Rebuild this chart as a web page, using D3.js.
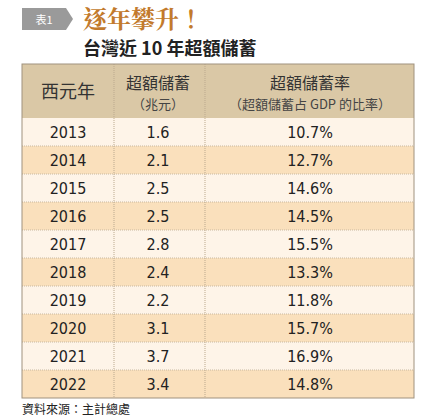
<!DOCTYPE html><html><head><meta charset="utf-8"><script src="https://cdn.jsdelivr.net/npm/d3@7"></script>
<style>body{margin:0;background:#fff}</style></head><body><svg id="c" width="424" height="420"></svg><script>
const years=["2013","2014","2015","2016","2017","2018","2019","2020","2021","2022"];
const savings=["1.6","2.1","2.5","2.5","2.8","2.4","2.2","3.1","3.7","3.4"];
const rates=["10.7%","12.7%","14.6%","14.5%","15.5%","13.3%","11.8%","15.7%","16.9%","14.8%"];
(function(){
const svg=d3.select("#c");
const F="'Noto Sans CJK TC','Noto Sans',sans-serif";
svg.append("path").attr("d","M22,8H66L73,19L66,30H22Z").attr("fill","#9a9a9a");
svg.append("text").attr("x",44).attr("y",24).attr("text-anchor","middle").attr("fill","#fff").attr("font-size",11).attr("font-family",F).text("表1");
svg.append("text").attr("x",83).attr("y",28).attr("fill","#c27a2c").attr("font-size",24).attr("font-weight","bold").attr("font-family","'Noto Serif CJK TC','Noto Sans CJK TC',serif").text("逐年攀升！");
svg.append("text").attr("x",83).attr("y",55).attr("fill","#222").attr("font-size",18).attr("font-weight","bold").attr("font-family",F).text("台灣近 10 年超額儲蓄");
const x0=22,x1=414,tTop=64,hb=118,bot=398;
const y=d3.scaleBand().domain(years).range([hb,bot]);
svg.append("rect").attr("x",x0).attr("y",tTop).attr("width",x1-x0).attr("height",hb-tTop).attr("fill","#dac8a6");
svg.selectAll(".r").data(years).join("rect").attr("x",x0).attr("y",d=>y(d)).attr("width",x1-x0).attr("height",y.bandwidth()).attr("fill",(d,i)=>i%2?"#fae0bc":"#fef4e8");
svg.selectAll(".l").data(years.slice(1)).join("line").attr("x1",x0).attr("x2",x1).attr("y1",d=>y(d)).attr("y2",d=>y(d)).attr("stroke","#c8b8a0").attr("stroke-dasharray","1,1");
[114,205].forEach(v=>{svg.append("line").attr("x1",v).attr("x2",v).attr("y1",tTop).attr("y2",bot).attr("stroke","#bba98e").attr("stroke-dasharray","1,1");});
svg.append("rect").attr("x",x0).attr("y",tTop).attr("width",x1-x0).attr("height",bot-tTop).attr("fill","none").attr("stroke","#a0927e");
const cx=[68,158,310];
const t=(x,yy,s,txt,c="#333")=>svg.append("text").attr("x",x).attr("y",yy).attr("text-anchor","middle").attr("font-size",s).attr("fill",c).attr("font-family",F).text(txt);
t(cx[0],98,18,"西元年");t(cx[1],89,16,"超額儲蓄");t(cx[1],109,13,"（兆元）","#444");
t(cx[2],89,16,"超額儲蓄率");t(cx[2],109,13,"（超額儲蓄占 GDP 的比率）","#444");
const cols=[years,savings,rates];
cols.forEach((arr,j)=>svg.selectAll(".c"+j).data(arr).join("text").attr("x",cx[j]).attr("y",(d,i)=>y(years[i])+y.bandwidth()/2+6).attr("text-anchor","middle").attr("font-size",16).attr("fill","#222").attr("font-family","'DejaVu Sans Condensed','Roboto Condensed',sans-serif").text(d=>d));
svg.append("text").attr("x",22).attr("y",414).attr("font-size",12).attr("fill","#222").attr("font-family",F).text("資料來源：主計總處");
})();
</script></body></html>
